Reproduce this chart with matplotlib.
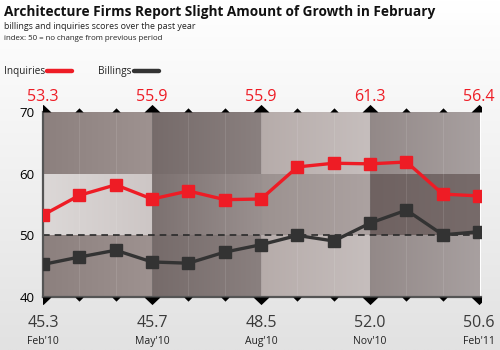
import numpy as np
import matplotlib
matplotlib.use("Agg")
import matplotlib.pyplot as plt
from matplotlib.colors import to_rgb
from matplotlib.patches import Rectangle

# data
months = ["Feb'10", "Mar'10", "Apr'10", "May'10", "Jun'10", "Jul'10", "Aug'10",
          "Sep'10", "Oct'10", "Nov'10", "Dec'10", "Jan'11", "Feb'11"]
inquiries = [53.3, 56.5, 58.2, 55.9, 57.2, 55.8, 55.9, 61.1, 61.7, 61.6, 61.9, 56.7, 56.4]
billings = [45.3, 46.5, 47.6, 45.7, 45.5, 47.3, 48.5, 50.0, 49.1, 52.0, 54.1, 50.1, 50.6]
label_idx = [0, 3, 6, 9, 12]
inq_labels = ["53.3", "55.9", "55.9", "61.3", "56.4"]
bil_labels = ["45.3", "45.7", "48.5", "52.0", "50.6"]
tick_months = ["Feb'10", "May'10", "Aug'10", "Nov'10", "Feb'11"]
yticks = [40, 50, 60, 70]

RED = "#ee1c25"
DARK = "#333333"

plt.rcParams['font.family'] = ['Open Sans', 'DejaVu Sans']

fig = plt.figure(figsize=(5, 3.5), dpi=100)

# page background: white fading to light grey
bg = fig.add_axes([0, 0, 1, 1], zorder=-10)
grad = np.linspace(0, 1, 256)[:, None]
top, bot = np.array(to_rgb("#ffffff")), np.array(to_rgb("#e2e2e2"))
img = np.clip(top + (bot - top) * grad[..., None], 0, 1)
bg.imshow(np.repeat(img, 2, axis=1), aspect="auto", extent=[0, 1, 0, 1])
bg.axis("off")

ax = fig.add_axes([0.086, 0.151, 0.876, 0.529])
x = np.arange(len(months))

# shaded cells: (quarter, row) -> (left colour, right colour)
cells = {
    (0, 0): ("#8c807e", "#9e9290"), (0, 1): ("#dcd8d7", "#cdc6c5"), (0, 2): ("#8c807e", "#9e9290"),
    (1, 0): ("#766b6a", "#8a807f"), (1, 1): ("#7c7170", "#9a908f"), (1, 2): ("#766b6a", "#8a807f"),
    (2, 0): ("#b6acaa", "#c6bebd"), (2, 1): ("#9c9290", "#aca2a1"), (2, 2): ("#b6acaa", "#c6bebd"),
    (3, 0): ("#938988", "#a8a0a0"), (3, 1): ("#6f6261", "#776b6a"), (3, 2): ("#938988", "#a8a0a0"),
}
for (q, r), (c0, c1) in cells.items():
    a, b = np.array(to_rgb(c0)), np.array(to_rgb(c1))
    t = np.linspace(0, 1, 64)[None, :, None]
    cell = a + (b - a) * t
    ax.imshow(cell, aspect="auto", extent=[3 * q, 3 * q + 3, 40 + 10 * r, 50 + 10 * r],
              zorder=0, interpolation="bilinear")

# faint month dividers
for xi in x[1:-1]:
    ax.axvline(xi, color="#ffffff", alpha=0.1, lw=0.8, zorder=1)
for xi in [3, 6, 9]:
    ax.axvline(xi, color="#000000", alpha=0.08, lw=0.8, zorder=1)

ax.axhline(50, color="#2a2a2a", lw=1.2, ls=(0, (4, 3)), zorder=2)

ax.plot(x, inquiries, color=RED, lw=2.4, marker="s", ms=8, zorder=4)
ax.plot(x, billings, color=DARK, lw=2.4, marker="s", ms=8, zorder=4)

ax.set_xlim(0, 12.05)
ax.set_ylim(40, 70)
ax.set_xticks([])
ax.set_yticks(yticks)
ax.set_yticklabels([str(v) for v in yticks], fontsize=9.5)
ax.tick_params(axis="y", length=0, pad=6)
for s in ["top", "right"]:
    ax.spines[s].set_visible(False)
for s in ["left", "bottom"]:
    ax.spines[s].set_color("#555555")
    ax.spines[s].set_linewidth(1.6)

# triangles sitting on the top edge and hanging under the bottom edge
clip = Rectangle((0, -0.2), 12.05, 1.4, transform=ax.get_xaxis_transform())
big = [i for i in x if i % 3 == 0]
small = [i for i in x if i % 3 != 0]
for idx, ms, h in [(big, 11.5, 0.95), (small, 6, 1.0)]:
    up = [(-1, 0), (1, 0), (0, h), (-1, 0)]
    down = [(-1, 0), (1, 0), (0, -h), (-1, 0)]
    for yy, mk in [(1.0, up), (0.0, down)]:
        sc = ax.scatter(idx, [yy] * len(idx), marker=mk, s=ms ** 2, color="black",
                        transform=ax.get_xaxis_transform(), clip_on=True, zorder=5,
                        linewidths=0)
        sc.set_clip_path(clip)

# value labels
for i, lab in zip(label_idx, inq_labels):
    ax.annotate(lab, (x[i], 1.0), xycoords=ax.get_xaxis_transform(), xytext=(0, 5),
                textcoords="offset points", ha="center", va="bottom", color=RED,
                fontsize=11.5, annotation_clip=False)
for i, lab, m in zip(label_idx, bil_labels, tick_months):
    ax.annotate(lab, (x[i], 0.0), xycoords=ax.get_xaxis_transform(), xytext=(0, -13),
                textcoords="offset points", ha="center", va="top", color="#3a3a3a",
                fontsize=11.5, annotation_clip=False)
    ax.annotate(m, (x[i], 0.0), xycoords=ax.get_xaxis_transform(), xytext=(0, -28),
                textcoords="offset points", ha="center", va="top", color="#222222",
                fontsize=7.5, annotation_clip=False)

# titles
fig.text(0.008, 0.965, "Architecture Firms Report Slight Amount of Growth in February",
         fontsize=9.8, fontweight="bold", va="center", color="#111111")
fig.text(0.008, 0.925, "billings and inquiries scores over the past year",
         fontsize=6.4, va="center", color="#222222")
fig.text(0.008, 0.89, "index: 50 = no change from previous period",
         fontsize=5.7, va="center", color="#222222")

# legend
fig.text(0.008, 0.797, "Inquiries", fontsize=7.2, va="center", color="#222222")
fig.add_artist(plt.Line2D([0.094, 0.144], [0.797, 0.797], color=RED, lw=3.2,
                          solid_capstyle="round"))
fig.text(0.196, 0.797, "Billings", fontsize=7.2, va="center", color="#222222")
fig.add_artist(plt.Line2D([0.268, 0.318], [0.797, 0.797], color=DARK, lw=3.2,
                          solid_capstyle="round"))

fig.savefig("out.png", dpi=100)
